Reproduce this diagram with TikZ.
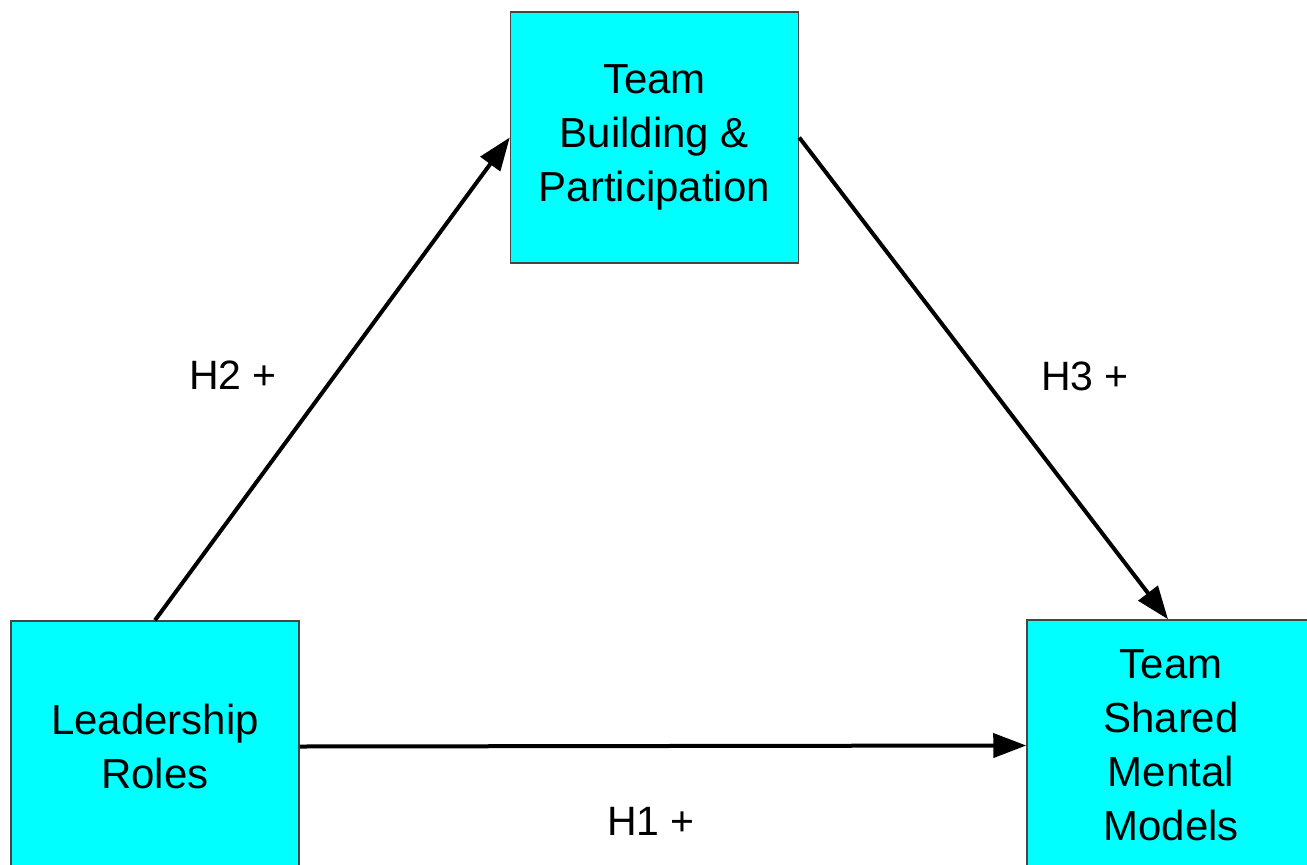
\documentclass[tikz,border=0pt]{standalone}
\usepackage{fontspec}
\setmainfont{Liberation Sans}
\usetikzlibrary{arrows.meta}
\definecolor{boxfill}{RGB}{0,255,255}
\definecolor{boxline}{RGB}{70,70,70}
\begin{document}
\begin{tikzpicture}[x=1pt,y=-1pt,
  box/.style={draw=boxline, line width=1.5pt, fill=boxfill, minimum width=288pt,
    minimum height=251pt, align=center, inner sep=0pt,
    font=\fontsize{42}{54}\selectfont},
  link/.style={line width=4pt, -{Triangle[length=33pt,width=24pt]}},
  lbl/.style={inner sep=0pt, font=\fontsize{41}{48}\selectfont}]
\useasboundingbox (0,0) rectangle (1307,865);
\clip (0,0) rectangle (1307,865);
\fill[white] (0,0) rectangle (1307,865);
% the three constructs
\node[box] (tb) at (654.5,137.5) {Team\\Building \&\\Participation};
\node[box] (lr) at (155,746.5) {Leadership\\Roles};
\node[box] (sm) at (1171,745.5) {Team\\Shared\\Mental\\Models};
% hypothesised paths
\draw[link] (lr.north) -- (tb.west);
\draw[link] (tb.east) -- ([xshift=-3pt]sm.north);
\draw[link] (lr.east) -- (sm.west);
% path labels
\node[lbl] (h2) at (233,375) {H2 +};
\node[lbl] (h3) at (1085,376) {H3 +};
\node[lbl] (h1) at (651,821) {H1 +};
\end{tikzpicture}
\end{document}
